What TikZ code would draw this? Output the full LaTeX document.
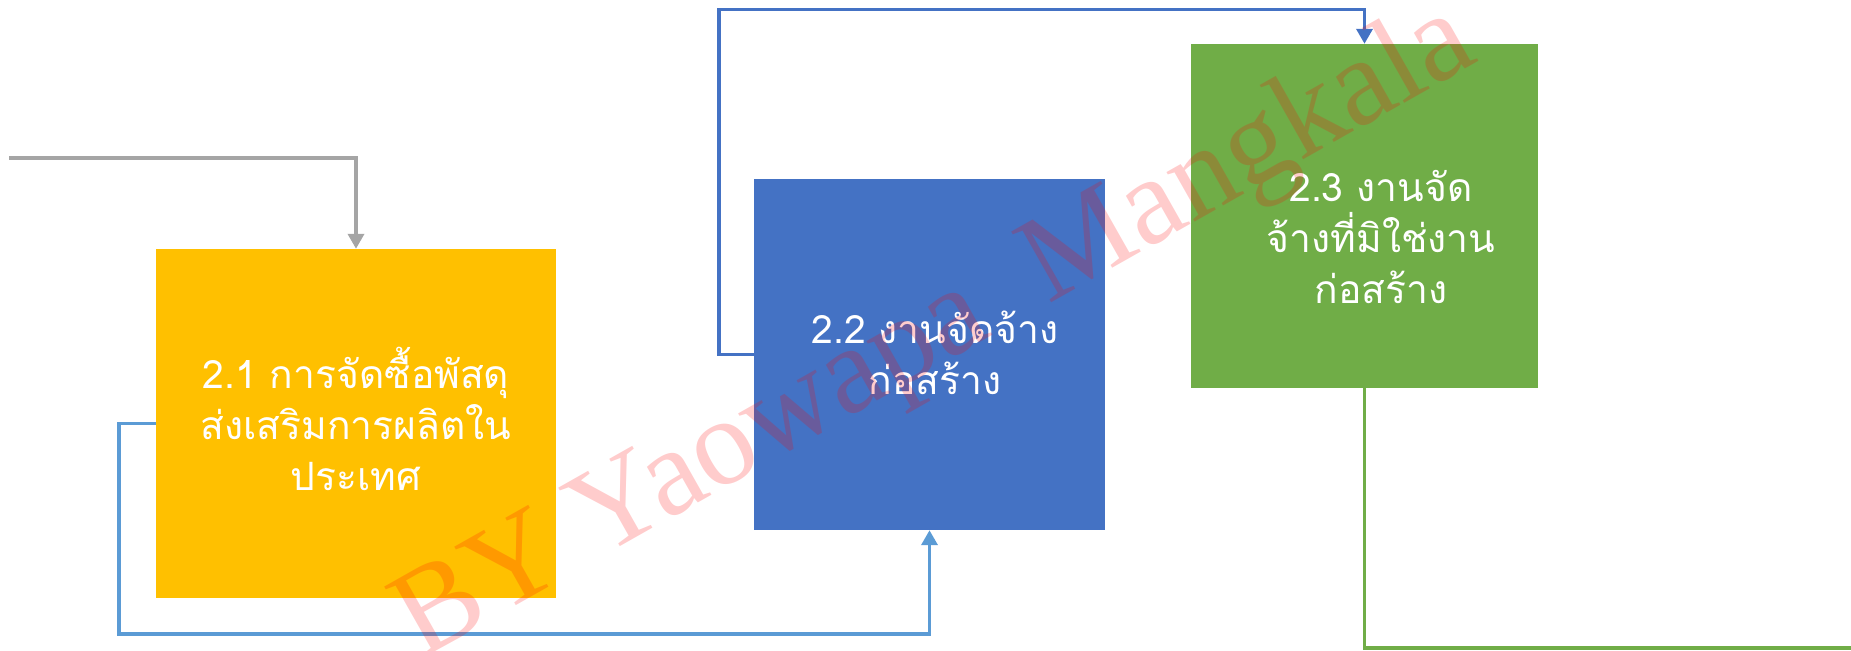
\documentclass[tikz,border=0pt]{standalone}
\usepackage{fontspec}
\setmainfont{Liberation Serif}
\newfontfamily\thai[Script=Thai]{Loma}
\usetikzlibrary{arrows.meta}
\definecolor{cYellow}{HTML}{FFC000}
\definecolor{cBlue}{HTML}{4472C4}
\definecolor{cGreen}{HTML}{70AD47}
\definecolor{cGray}{HTML}{A5A5A5}
\definecolor{cLightBlue}{HTML}{5B9BD5}
\tikzset{
  box/.style={rectangle, inner sep=0pt, draw=none},
  boxtext/.style={align=center, text=white, inner sep=0pt, font=\thai\fontsize{39}{51}\selectfont},
  conn/.style={line width=3.6pt, line join=miter, -{Triangle[width=16pt,length=15pt]}},
  plain/.style={line width=3.6pt, line join=miter},
  wmark/.style={text=red, text opacity=0.2, font=\fontsize{124}{126}\selectfont, inner sep=0pt}
}
\begin{document}
\begin{tikzpicture}[x=1pt,y=-1pt]
\useasboundingbox (0,0) rectangle (1851,650);
% boxes
\node[box, fill=cYellow, minimum width=400pt, minimum height=349pt] (b1) at (356,423.5) {};
\node[box, fill=cBlue, minimum width=351pt, minimum height=351pt] (b2) at (929.5,354.5) {};
\node[box, fill=cGreen, minimum width=347pt, minimum height=344pt] (b3) at (1364.5,216) {};
% texts
\node[boxtext] (t1) at (356,419) {2.1 การจัดซื้อพัสดุ\\ส่งเสริมการผลิตใน\\ประเทศ};
\node[boxtext] (t2) at (935,353) {2.2 งานจัดจ้าง\\ก่อสร้าง};
\node[boxtext] (t3) at (1381,237) {2.3 งานจัด\\จ้างที่มิใช่งาน\\ก่อสร้าง};
% connectors
\coordinate (gstart) at (9,158);
\draw[conn, cGray] (gstart) -| (b1.north);
\coordinate (lb1) at (119,634);
\draw[conn, cLightBlue] (b1.west) -| (lb1) -| (b2.south);
\coordinate (db1) at (719,9.5);
\draw[conn, cBlue] (b2.west) -| (db1) -| (b3.north);
\coordinate (gend) at (1851,648);
\draw[plain, cGreen] (b3.south) |- (gend);
% watermark
\node[wmark, rotate=29.5] (wm) at (936,334) {BY Yaowapa\ \ Mangkala};
\end{tikzpicture}
\end{document}
